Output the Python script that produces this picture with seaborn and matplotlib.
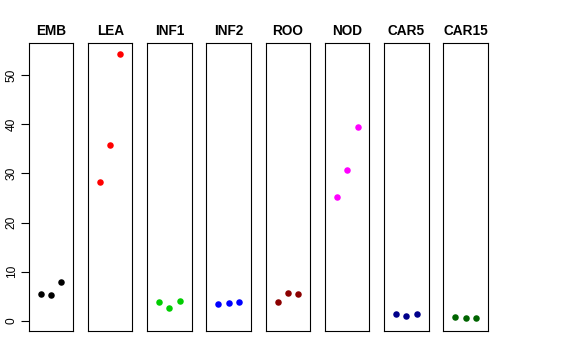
import numpy as np
import pandas as pd
import seaborn as sns
import matplotlib.pyplot as plt

# panels, one per tissue
tissues = ["EMB", "LEA", "INF1", "INF2", "ROO", "NOD", "CAR5", "CAR15"]
colors = ["#000000", "#FF0000", "#00CD00", "#0000FF", "#8B0000", "#FF00FF", "#00008B", "#006400"]
replicate = [1, 2, 3]

# three replicate values per tissue
emb = [5.4, 5.2, 7.8]
lea = [28.3, 35.8, 54.4]
inf1 = [3.8, 2.6, 4.1]
inf2 = [3.3, 3.6, 3.9]
roo = [3.9, 5.7, 5.5]
nod = [25.2, 30.7, 39.5]
car5 = [1.4, 1.0, 1.35]
car15 = [0.8, 0.47, 0.47]

values = [emb, lea, inf1, inf2, roo, nod, car5, car15]

rows = []
for t, vals in zip(tissues, values):
    for r, v in zip(replicate, vals):
        rows.append({"tissue": t, "rep": r, "value": v})
df = pd.DataFrame(rows)

sns.set_style("white")
plt.rcParams["font.family"] = ["Liberation Sans", "DejaVu Sans"]
plt.rcParams["text.color"] = "black"
plt.rcParams["ytick.color"] = "black"
plt.rcParams["axes.titlecolor"] = "black"

fig, axes = plt.subplots(1, 8, sharey=True, figsize=(5.76, 3.6), dpi=100)
fig.subplots_adjust(left=0.0498, right=0.8472, top=0.8806, bottom=0.0806, wspace=0.33)

for ax, t, c in zip(axes, tissues, colors):
    sub = df[df["tissue"] == t]
    sns.scatterplot(data=sub, x="rep", y="value", color=c, s=22, linewidth=0, ax=ax)
    ax.set_xlim(-0.165, 4.165)
    ax.set_ylim(-2.1, 56.6)
    ax.set_xticks([])
    ax.set_xlabel("")
    ax.set_ylabel("")
    ax.set_title(t, fontsize=9.8, fontweight="bold", pad=6, color="black")
    for sp in ax.spines.values():
        sp.set_visible(True)
        sp.set_color("black")
        sp.set_linewidth(0.8)
    ax.tick_params(axis="y", left=False, labelleft=False)

axes[0].set_yticks([0, 10, 20, 30, 40, 50])
axes[0].tick_params(axis="y", left=True, labelleft=True, length=5.8, width=0.8,
                    labelsize=8.6, labelrotation=90, pad=2, direction="out",
                    colors="black")
for lab in axes[0].get_yticklabels():
    lab.set_verticalalignment("center")

plt.savefig("out.png", dpi=100)
